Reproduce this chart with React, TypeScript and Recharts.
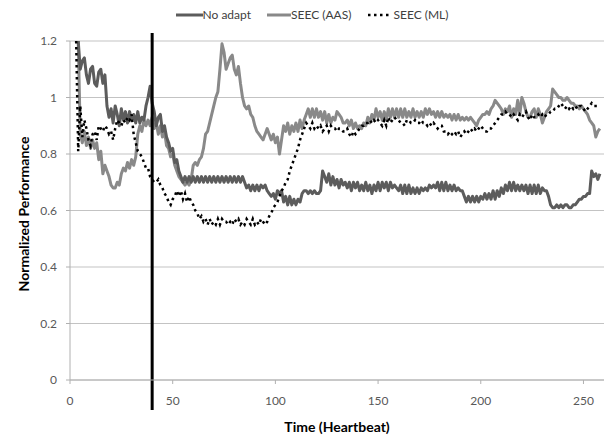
import { LineChart, Line, XAxis, YAxis, CartesianGrid, ReferenceLine } from 'recharts';

// heartbeat samples start at t = 3
const START = 3;

const noAdapt = [
    1.2, 1.2, 1.1, 1.13, 1.14, 1.08, 1.05, 1.1, 1.11, 1.05, 1.04, 1.09, 1.1, 1.05, 1.08,
    0.97, 0.93, 0.96, 0.91, 0.97, 0.94, 0.9, 0.96, 0.92, 0.95, 0.91, 0.95, 0.92, 0.94, 0.91,
    0.95, 0.91, 0.93, 0.92, 0.97, 1.0, 1.04, 0.98, 0.95, 0.9, 0.93, 0.94, 0.88, 0.9, 0.86,
    0.84, 0.81, 0.82, 0.77, 0.78, 0.74, 0.72, 0.7, 0.72, 0.7, 0.72, 0.7, 0.72, 0.7, 0.72,
    0.7, 0.72, 0.7, 0.72, 0.7, 0.72, 0.7, 0.72, 0.7, 0.72, 0.7, 0.72, 0.7, 0.72, 0.7,
    0.72, 0.7, 0.72, 0.7, 0.72, 0.7, 0.72, 0.7, 0.68, 0.69, 0.67, 0.69, 0.67, 0.69, 0.67,
    0.69, 0.68, 0.69, 0.67, 0.66, 0.65, 0.66, 0.64, 0.67, 0.66, 0.67, 0.63, 0.65, 0.62, 0.65,
    0.62, 0.64, 0.62, 0.64, 0.63, 0.66, 0.67, 0.67, 0.66, 0.67, 0.66, 0.67, 0.66, 0.66, 0.67,
    0.74, 0.72, 0.7, 0.73, 0.69, 0.72, 0.69, 0.71, 0.68, 0.71, 0.69, 0.7, 0.68, 0.7, 0.67,
    0.7, 0.68, 0.7, 0.67, 0.69, 0.67, 0.7, 0.67, 0.69, 0.66, 0.69, 0.67, 0.7, 0.67, 0.7,
    0.68, 0.7, 0.67, 0.7, 0.68, 0.69, 0.68, 0.67, 0.69, 0.66, 0.69, 0.66, 0.69, 0.66, 0.68,
    0.66, 0.68, 0.66, 0.68, 0.67, 0.68, 0.67, 0.69, 0.68, 0.69, 0.68, 0.7, 0.67, 0.7, 0.67,
    0.7, 0.67, 0.69, 0.67, 0.69, 0.67, 0.68, 0.67, 0.67, 0.65, 0.63, 0.65, 0.63, 0.65, 0.63,
    0.65, 0.63, 0.65, 0.64, 0.66, 0.64, 0.66, 0.64, 0.67, 0.64, 0.67, 0.65, 0.68, 0.66, 0.69,
    0.67, 0.7, 0.67, 0.7, 0.67, 0.69, 0.67, 0.69, 0.67, 0.69, 0.66, 0.69, 0.66, 0.69, 0.66,
    0.69, 0.66, 0.68, 0.67, 0.67, 0.65, 0.62, 0.61, 0.61, 0.62, 0.61, 0.62, 0.61, 0.62, 0.62,
    0.61, 0.61, 0.62, 0.62, 0.63, 0.64, 0.64, 0.65, 0.65, 0.66, 0.66, 0.74, 0.72, 0.73, 0.71,
    0.73,
];

const seecAas = [
    1.2, 1.2, 0.87, 0.84, 0.88, 0.83, 0.86, 0.82, 0.85, 0.82, 0.84, 0.78, 0.81, 0.73, 0.76,
    0.74, 0.72, 0.69, 0.68, 0.68, 0.7, 0.69, 0.73, 0.75, 0.74, 0.77, 0.75, 0.78, 0.76, 0.79,
    0.87, 0.9, 0.88, 0.92, 0.9, 0.92, 0.9, 0.93, 0.89, 0.91, 0.87, 0.9, 0.86, 0.88, 0.83,
    0.82, 0.79, 0.8, 0.76, 0.74, 0.72, 0.71, 0.7, 0.69, 0.7, 0.69, 0.71, 0.76, 0.77, 0.76,
    0.78, 0.79, 0.82, 0.87, 0.88, 0.91, 0.94, 0.97, 1.0, 1.02, 1.1, 1.19, 1.16, 1.1, 1.12,
    1.14, 1.15, 1.1, 1.08, 1.11, 1.05, 1.0, 0.97, 0.96, 0.97, 0.94, 0.93, 0.9, 0.88, 0.87,
    0.86, 0.85, 0.87, 0.89, 0.87, 0.85, 0.87, 0.84, 0.86, 0.8, 0.85, 0.9, 0.88, 0.91, 0.87,
    0.9, 0.88, 0.91, 0.88, 0.92, 0.89, 0.92, 0.94, 0.96, 0.93, 0.96, 0.93, 0.96, 0.93, 0.95,
    0.92, 0.95, 0.91, 0.94, 0.91, 0.93, 0.92, 0.95, 0.94, 0.93, 0.91, 0.91, 0.92, 0.9, 0.92,
    0.89, 0.91, 0.89, 0.9, 0.89, 0.91, 0.9, 0.93, 0.91, 0.94, 0.92, 0.96, 0.93, 0.95, 0.92,
    0.95, 0.92, 0.96, 0.93, 0.96, 0.93, 0.96, 0.93, 0.96, 0.93, 0.96, 0.93, 0.95, 0.93, 0.96,
    0.93, 0.95, 0.93, 0.95, 0.93, 0.96, 0.94, 0.96, 0.94, 0.95, 0.93, 0.95, 0.93, 0.95, 0.93,
    0.94, 0.93, 0.94, 0.92, 0.94, 0.92, 0.94, 0.92, 0.93, 0.92, 0.93, 0.92, 0.93, 0.92, 0.91,
    0.9, 0.92, 0.93, 0.94, 0.94, 0.95, 0.94, 0.96, 0.97, 0.99, 0.98, 0.97, 0.96, 0.94, 0.96,
    0.95, 0.97, 0.93, 0.96, 0.94, 0.99, 0.94, 1.0, 0.98, 0.95, 0.93, 0.93, 0.95, 0.96, 0.93,
    0.96, 0.94, 0.91, 0.93, 0.95, 0.96, 0.97, 1.03, 1.02, 1.01, 1.0, 1.0, 0.99, 0.99, 1.0,
    0.99, 0.98, 0.98, 0.97, 0.97, 0.96, 0.97, 0.96, 0.95, 0.94, 0.92, 0.91, 0.9, 0.86, 0.88,
    0.89, 0.87, 0.9, 0.88, 0.89,
];

const seecMl = [
    1.2, 0.81, 0.97, 0.86, 0.92, 0.89, 0.85, 0.83, 0.87, 0.88, 0.85, 0.9, 0.89, 0.88, 0.9,
    0.89, 0.87, 0.88, 0.85, 0.89, 0.92, 0.91, 0.9, 0.92, 0.91, 0.93, 0.92, 0.94, 0.87, 0.84,
    0.81, 0.8, 0.79, 0.77, 0.75, 0.75, 0.72, 0.71, 0.7, 0.7, 0.71, 0.69, 0.68, 0.66, 0.65,
    0.63, 0.62, 0.64, 0.65, 0.67, 0.65, 0.67, 0.64, 0.66, 0.63, 0.65, 0.63, 0.62, 0.6, 0.59,
    0.57, 0.58, 0.56, 0.57, 0.55, 0.57, 0.55, 0.56, 0.55, 0.57, 0.55, 0.57, 0.56, 0.56, 0.55,
    0.56, 0.55, 0.57, 0.56, 0.57, 0.55, 0.56, 0.55, 0.57, 0.56, 0.55, 0.57, 0.55, 0.56, 0.55,
    0.57, 0.56, 0.55, 0.56, 0.58, 0.59, 0.61, 0.62, 0.63, 0.65, 0.67, 0.68, 0.7, 0.71, 0.74,
    0.76, 0.78, 0.8, 0.82, 0.85, 0.87, 0.89, 0.91, 0.9, 0.89, 0.91, 0.89, 0.9, 0.89, 0.9,
    0.88, 0.89, 0.9, 0.88, 0.9, 0.89, 0.89, 0.88, 0.89, 0.89, 0.88, 0.88, 0.89, 0.87, 0.86,
    0.88, 0.87, 0.88, 0.89, 0.9, 0.9, 0.91, 0.91, 0.92, 0.91, 0.92, 0.91, 0.92, 0.91, 0.9,
    0.92, 0.9, 0.93, 0.91, 0.92, 0.93, 0.92, 0.92, 0.91, 0.91, 0.9, 0.92, 0.92, 0.91, 0.91,
    0.92, 0.91, 0.91, 0.92, 0.91, 0.91, 0.9, 0.91, 0.9, 0.91, 0.9, 0.89, 0.9, 0.9, 0.88,
    0.88, 0.87, 0.88, 0.87, 0.88, 0.87, 0.88, 0.86, 0.87, 0.88, 0.87, 0.88, 0.89, 0.88, 0.89,
    0.88, 0.89, 0.9, 0.89, 0.88, 0.88, 0.89, 0.89, 0.9, 0.91, 0.92, 0.93, 0.94, 0.94, 0.95,
    0.94, 0.94, 0.93, 0.94, 0.93, 0.92, 0.94, 0.93, 0.94, 0.95, 0.93, 0.92, 0.94, 0.93, 0.93,
    0.94, 0.93, 0.94, 0.93, 0.94, 0.94, 0.95, 0.95, 0.96, 0.96, 0.97, 0.98, 0.97, 0.96, 0.97,
    0.96, 0.97, 0.96, 0.97, 0.96, 0.97, 0.97, 0.96, 0.95, 0.96, 0.97, 0.98, 0.97, 0.97, 0.97,
    0.97, 0.96, 0.96,
];

const xTicks = [0, 50, 100, 150, 200, 250];
const yTicks = [0, 0.2, 0.4, 0.6, 0.8, 1, 1.2];
const markerAt = 40;

const FONT = 'Lato, "Open Sans", sans-serif';
const C_NO_ADAPT = '#5c5c5c';
const C_AAS = '#898989';

const data = noAdapt.map((v, i) => ({
    t: START + i,
    noAdapt: v,
    aas: seecAas[i],
    ml: seecMl[i],
}));

// legend sits above the plot, drawn outside recharts so it takes no plot space
const LegendBox = () => (
    <div
        style={{
            position: 'absolute',
            top: 7,
            left: 0,
            width: 608,
            display: 'flex',
            justifyContent: 'center',
            alignItems: 'center',
            gap: 16,
            fontFamily: FONT,
            fontSize: 12,
            color: '#404040',
            paddingLeft: 16,
            boxSizing: 'border-box',
        }}
    >
        <span style={{ display: 'flex', alignItems: 'center' }}>
            <svg width={27} height={6}>
                <line x1={0} y1={3} x2={27} y2={3} stroke={C_NO_ADAPT} strokeWidth={3} />
            </svg>
            No adapt
        </span>
        <span style={{ display: 'flex', alignItems: 'center' }}>
            <svg width={24} height={6}>
                <line x1={0} y1={3} x2={24} y2={3} stroke={C_AAS} strokeWidth={3} />
            </svg>
            SEEC (AAS)
        </span>
        <span style={{ display: 'flex', alignItems: 'center' }}>
            <svg width={26} height={6}>
                <line x1={1} y1={3} x2={24} y2={3} stroke="#000" strokeWidth={2.5} strokeDasharray="2.5 3.5" />
            </svg>
            SEEC (ML)
        </span>
    </div>
);

// heavy black marker that runs past the plot area like in the original
const MarkerLine = (p: any) => {
    const top = Math.min(p.y1, p.y2);
    const bottom = Math.max(p.y1, p.y2);
    return <line x1={p.x1} x2={p.x2} y1={top - 8} y2={bottom + 30} stroke="#000" strokeWidth={3} />;
};

export default function App() {
    return (
        <div style={{ position: 'absolute', left: 0, top: 0, width: 608, height: 440, background: '#fff' }}>
            <LegendBox />
            <LineChart width={608} height={440} data={data} margin={{ top: 41, right: 4, left: 0, bottom: 30 }}>
                <CartesianGrid vertical={false} stroke="#c3c3c3" />
                <XAxis
                    dataKey="t"
                    type="number"
                    domain={[0, 260]}
                    ticks={xTicks}
                    height={30}
                    tickSize={4}
                    tickMargin={12}
                    stroke="#b0b0b0"
                    tick={{ fontSize: 12, fill: '#595959', fontFamily: FONT }}
                />
                <YAxis
                    domain={[0, 1.2]}
                    ticks={yTicks}
                    width={70}
                    tickSize={4}
                    tickMargin={9}
                    allowDataOverflow
                    stroke="#b0b0b0"
                    tick={{ fontSize: 12, fill: '#595959', fontFamily: FONT }}
                />
                <Line
                    dataKey="aas"
                    type="linear"
                    stroke={C_AAS}
                    strokeWidth={3}
                    dot={false}
                    strokeLinejoin="round"
                    isAnimationActive={false}
                />
                <Line
                    dataKey="noAdapt"
                    type="linear"
                    stroke={C_NO_ADAPT}
                    strokeWidth={3}
                    dot={false}
                    strokeLinejoin="round"
                    isAnimationActive={false}
                />
                <Line
                    dataKey="ml"
                    type="linear"
                    stroke="#000"
                    strokeWidth={2.5}
                    strokeDasharray="2.5 3.5"
                    dot={false}
                    isAnimationActive={false}
                />
                <ReferenceLine x={markerAt} shape={MarkerLine} />
                <text x={337} y={432} textAnchor="middle" fontFamily={FONT} fontSize={14} fontWeight={700} fill="#000">
                    Time (Heartbeat)
                </text>
                <text
                    x={0}
                    y={0}
                    transform="translate(29 214) rotate(-90)"
                    textAnchor="middle"
                    fontFamily={FONT}
                    fontSize={14}
                    fontWeight={700}
                    fill="#000"
                >
                    Normalized Performance
                </text>
            </LineChart>
        </div>
    );
}
